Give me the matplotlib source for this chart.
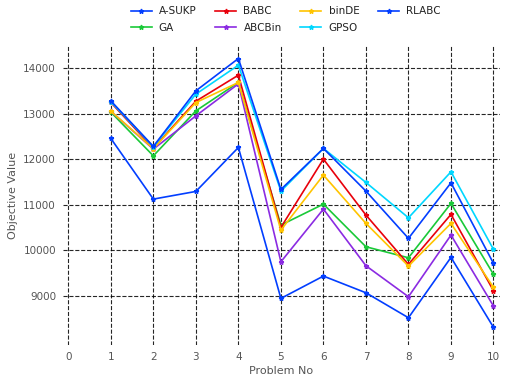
import matplotlib
matplotlib.use("Agg")
import matplotlib.pyplot as plt

problems = [1, 2, 3, 4, 5, 6, 7, 8, 9, 10]
a_sukp = [12454, 11125, 11293, 12256, 8950, 9439, 9073, 8526, 9848, 8316]
ga     = [13030, 12073, 13058, 13680, 10556, 11015, 10081, 9840, 11031, 9476]
babc   = [13242, 12240, 13270, 13840, 10505, 12001, 10775, 9695, 10790, 9117]
abcbin = [13050, 12220, 12949, 13650, 9752, 10906, 9665, 8986, 10337, 8782]
binde  = [13052, 12230, 13240, 13680, 10446, 11651, 10593, 9658, 10593, 9191]
gpso   = [13260, 12270, 13424, 14059, 11300, 12235, 11490, 10716, 11723, 10023]
rlabc  = [13278, 12279, 13497, 14205, 11336, 12235, 11300, 10265, 11482, 9717]

series = [
    ("A-SUKP", a_sukp, "#023eff"),
    ("GA", ga, "#1ac938"),
    ("BABC", babc, "#e8000b"),
    ("ABCBin", abcbin, "#8b2be2"),
    ("binDE", binde, "#ffc400"),
    ("GPSO", gpso, "#00d7ff"),
    ("RLABC", rlabc, "#023eff"),
]

fig = plt.figure(figsize=(5.08, 3.85), dpi=100)
ax = fig.add_axes([0.124, 0.104, 0.86, 0.779])
for name, vals, col in series:
    ax.plot(problems, vals, color=col, lw=1.2, marker="*", ms=3.5, label=name)

ax.set_xlim(-0.125, 10.15)
ax.set_ylim(7930, 14500)
ax.set_xticks(range(0, 11))
ax.set_yticks([9000, 10000, 11000, 12000, 13000, 14000])
ax.grid(True, color="black", ls="--", lw=0.8, alpha=0.85)
for s in ax.spines.values():
    s.set_visible(False)
ax.tick_params(colors="#555555", labelsize=7.5, length=0, pad=5)
ax.set_xlabel("Problem No", color="#555555", fontsize=8, labelpad=3)
ax.set_ylabel("Objective Value", color="#555555", fontsize=8)
leg = ax.legend(loc="upper center", bbox_to_anchor=(0.51, 1.143), ncol=4, frameon=False,
                fontsize=7.5, handlelength=2.0, columnspacing=1.8, borderaxespad=0.0,
                labelspacing=0.6, handletextpad=0.7)
for t in leg.get_texts():
    t.set_color("#222222")
fig.savefig("out.png", dpi=100)
